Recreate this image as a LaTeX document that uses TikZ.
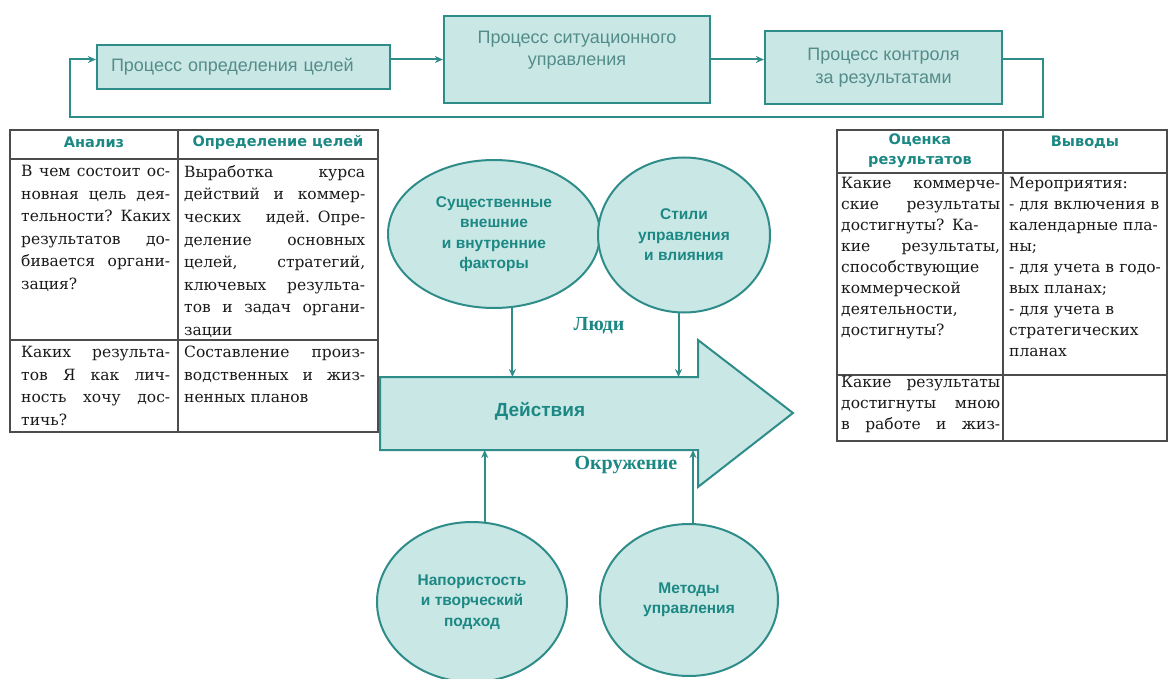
\documentclass[tikz,border=0pt]{standalone}
\usepackage{fontspec}
\setmainfont{DejaVu Serif}
\newfontfamily\boxfont{Liberation Sans}
\newfontfamily\labfont{Liberation Serif}
\newfontfamily\headfont{DejaVu Sans}
\usetikzlibrary{shapes.geometric,arrows.meta}
\definecolor{tline}{RGB}{46,140,137}
\definecolor{tfill}{RGB}{201,231,229}
\definecolor{ttext}{RGB}{28,136,132}
\definecolor{btext}{RGB}{84,140,138}
\newlength{\cellw}
\newcommand{\jl}[1]{\leavevmode\hbox to\cellw{\spaceskip=0.3em plus 1fil\relax #1}}

\begin{document}
\begin{tikzpicture}[x=1pt,y=-1pt,>={Stealth[length=8pt,width=7pt]},
  pbox/.style={draw=tline,line width=2.2pt,fill=tfill,text=btext,align=center,inner sep=4pt,
    font=\boxfont\fontsize{18}{22.5}\selectfont},
  blob/.style={ellipse,draw=tline,line width=2pt,fill=tfill,text=ttext,align=center,inner sep=0pt,
    font=\boxfont\bfseries\fontsize{15.5}{20.5}\selectfont},
  flow/.style={->,draw=tline,line width=2pt},
  tabline/.style={draw=black!70,line width=1.3pt},
  tabhead/.style={text=ttext,align=center,font=\headfont\bfseries\fontsize{14.5}{20}\selectfont},
  tabcell/.style={anchor=north west,inner sep=0pt,align=left,text width=\cellw,
    text=black!90,font=\fontsize{15.5}{22.6}\selectfont},
  rcell/.style={tabcell,font=\fontsize{15.5}{21}\selectfont},
  lab/.style={text=ttext,font=\labfont\bfseries\fontsize{20}{24}\selectfont}]
  \useasboundingbox (0,0) rectangle (1168,679);
  \clip (0,0) rectangle (1168,679);

  \node[pbox,minimum height=44pt,align=left,text width=265pt,inner xsep=14pt] (goal) at (243.5,67) {Процесс определения целей};
  \node[pbox,minimum width=266pt,minimum height=87pt] (sit) at (577,59.5) {Процесс ситуационного\\управления\\\mbox{}};
  \node[pbox,minimum width=237pt,minimum height=73pt] (ctl) at (883.5,67.5) {Процесс контроля\\за результатами};
  \coordinate (loopR) at (1043,117);
  \coordinate (loopL) at (70,117);
  \draw[flow] (goal.east |- sit.west) -- (sit.west);
  \draw[flow] (sit.east) -- (sit.east -| ctl.west);
  \draw[flow] (sit.east -| ctl.east) -| (loopR) -- (loopL) |- (goal.west |- sit.west);

  \draw[tabline] (10,130) rectangle (378,432) (178,130) -- (178,432) (10,159) -- (378,159) (10,340) -- (378,340);
  \node[tabhead] (hAn) at (94,142) {Анализ};
  \node[tabhead] (hGo) at (278,142) {Определение целей};
  \setlength{\cellw}{149pt}
  \node[tabcell] (a1) at (21,165) {\jl{В чем состоит ос-}\\\jl{новная цель дея-}\\\jl{тельности? Каких}\\\jl{результатов до-}\\\jl{бивается органи-}\\зация?};
  \node[tabcell] (a2) at (21,346) {\jl{Каких результа-}\\\jl{тов Я как лич-}\\\jl{ность хочу дос-}\\тичь?};
  \setlength{\cellw}{181pt}
  \node[tabcell] (b1) at (184,165) {\jl{Выработка курса}\\\jl{действий и коммер-}\\\jl{ческих идей. Опре-}\\\jl{деление основных}\\\jl{целей, стратегий,}\\\jl{ключевых результа-}\\\jl{тов и задач органи-}\\зации};
  \node[tabcell] (b2) at (184,346) {\jl{Составление произ-}\\\jl{водственных и жиз-}\\ненных планов};

  \draw[tabline] (837,130) rectangle (1167,441) (1003,130) -- (1003,441) (837,173) -- (1167,173) (837,375) -- (1167,375);
  \node[tabhead] (hEv) at (920,151) {Оценка\\результатов};
  \node[tabhead] (hCo) at (1085,142) {Выводы};
  \setlength{\cellw}{159pt}
  \node[rcell] (c1) at (841,177) {\jl{Какие коммерче-}\\\jl{ские результаты}\\\jl{достигнуты? Ка-}\\\jl{кие результаты,}\\способствующие\\коммерческой\\деятельности,\\достигнуты?};
  \node[rcell] (c2) at (841,376) {\jl{Какие результаты}\\\jl{достигнуты мною}\\\jl{в работе и жиз-}};
  \setlength{\cellw}{155pt}
  \node[rcell] (d1) at (1009,177) {Мероприятия:\\\mbox{- для включения в}\\\mbox{календарные пла-}\\ны;\\\mbox{- для учета в годо-}\\вых планах;\\- для учета в\\стратегических\\планах};

  \filldraw[draw=tline,fill=tfill,line width=2pt] (380,377) coordinate (actNW) -- (698,377) -- (698,340) -- (793,413)
    -- (698,487) -- (698,450) -- (380,450) coordinate (actSW) -- cycle;
  \node[text=ttext,font=\boxfont\bfseries\fontsize{19}{23}\selectfont] (act) at (540,411) {Действия};

  \node[blob,minimum width=212pt,minimum height=148pt] (fac) at (494,234) {Существенные\\внешние\\и внутренние\\факторы};
  \node[blob,minimum width=172pt,minimum height=155pt] (sty) at (684,235) {Стили\\управления\\и влияния};
  \node[blob,minimum width=190pt,minimum height=160pt] (prs) at (472,602) {Напористость\\и творческий\\подход};
  \node[blob,minimum width=178pt,minimum height=152pt] (mth) at (689,600) {Методы\\управления};
  \draw[flow] (fac.-76) -- (fac.-76 |- actNW);
  \draw[flow] (sty.-94) -- (sty.-94 |- actNW);
  \draw[flow] (prs.81) -- (prs.81 |- actSW);
  \draw[flow] (mth.87) -- (mth.87 |- actSW);
  \node[lab] (ppl) at (599,326) {Люди};
  \node[lab] (env) at (626,465) {Окружение};
\end{tikzpicture}
\end{document}
